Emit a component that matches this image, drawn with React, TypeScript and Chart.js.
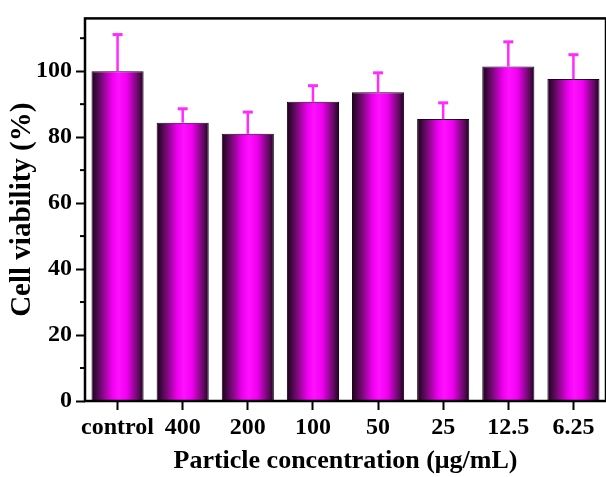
import React, { useEffect, useRef } from "react";
import { Chart, registerables } from "chart.js";

Chart.register(...registerables);

const categories = ["control", "400", "200", "100", "50", "25", "12.5", "6.25"];
const viability = [100, 84.4, 81.0, 90.7, 93.6, 85.5, 101.4, 97.6];
const errors = [11.1, 4.2, 6.6, 4.9, 5.9, 4.9, 7.5, 7.4];
const yMajorTicks = [0, 20, 40, 60, 80, 100];
const yMinorTicks = [10, 30, 50, 70, 90, 110];

const FONT = '"Liberation Serif", "Times New Roman", serif';
const BAR_PCT = 0.8;

export default function App() {
  const ref = useRef<HTMLCanvasElement | null>(null);

  useEffect(() => {
    if (!ref.current) return;

    const errorBars = {
      id: "errorBars",
      afterDatasetsDraw(chart: any) {
        const ctx = chart.ctx;
        const ys = chart.scales.y;
        const meta = chart.getDatasetMeta(0);
        ctx.save();
        ctx.strokeStyle = "#ff2bff";
        meta.data.forEach((bar: any, i: number) => {
          const x = bar.x;
          const y0 = ys.getPixelForValue(viability[i]);
          const y1 = ys.getPixelForValue(viability[i] + errors[i]);
          ctx.lineWidth = 2.5;
          ctx.beginPath();
          ctx.moveTo(x, y0);
          ctx.lineTo(x, y1);
          ctx.stroke();
          ctx.lineWidth = 3;
          ctx.beginPath();
          ctx.moveTo(x - 5, y1);
          ctx.lineTo(x + 5, y1);
          ctx.stroke();
        });
        ctx.restore();
      },
    };

    const frame = {
      id: "frame",
      afterDraw(chart: any) {
        const { ctx, chartArea } = chart;
        const ys = chart.scales.y;
        ctx.save();
        ctx.strokeStyle = "#000";
        ctx.lineWidth = 2.5;
        ctx.strokeRect(
          chartArea.left,
          chartArea.top,
          chartArea.right - chartArea.left,
          chartArea.bottom - chartArea.top
        );
        ctx.lineWidth = 2;
        yMinorTicks.forEach((v) => {
          const y = ys.getPixelForValue(v);
          ctx.beginPath();
          ctx.moveTo(chartArea.left - 5, y);
          ctx.lineTo(chartArea.left, y);
          ctx.stroke();
        });
        ctx.restore();
      },
    };

    const chart = new Chart(ref.current, {
      type: "bar",
      data: {
        labels: categories,
        datasets: [
          {
            data: viability,
            barPercentage: BAR_PCT,
            categoryPercentage: 1,
            borderWidth: 1,
            borderColor: "#1a0018",
            backgroundColor: (c: any) => {
              const ch = c.chart;
              const xs = ch.scales.x;
              if (!xs || c.dataIndex === undefined || !xs.width) return "#ff00ff";
              const cx = xs.getPixelForValue(c.dataIndex);
              const w = (xs.width / categories.length) * BAR_PCT;
              const g = ch.ctx.createLinearGradient(cx - w / 2, 0, cx + w / 2, 0);
              g.addColorStop(0, "#1a001a");
              g.addColorStop(0.15, "#600a60");
              g.addColorStop(0.4, "#f000f0");
              g.addColorStop(0.52, "#ff10ff");
              g.addColorStop(0.68, "#f000f0");
              g.addColorStop(0.9, "#600a60");
              g.addColorStop(1, "#1e001e");
              return g;
            },
          },
        ],
      },
      options: {
        animation: false,
        responsive: true,
        maintainAspectRatio: false,
        layout: { padding: { top: 15, right: 0, left: 0, bottom: 0 } },
        plugins: {
          legend: { display: false },
          tooltip: { enabled: false },
        },
        scales: {
          x: {
            offset: true,
            grid: {
              display: true,
              drawOnChartArea: false,
              drawTicks: true,
              tickLength: 9,
              tickWidth: 2,
              tickColor: "#000",
              offset: false,
            },
            border: { display: false },
            ticks: {
              color: "#000",
              padding: 3,
              maxRotation: 0,
              autoSkip: false,
              font: { family: FONT, size: 24, weight: "bold" },
            },
            title: {
              display: true,
              text: "Particle concentration (μg/mL)",
              color: "#000",
              font: { family: FONT, size: 26, weight: "bold" },
              padding: { top: 0, bottom: 0 },
            },
            afterFit: (s: any) => {
              s.height = 76;
            },
          },
          y: {
            min: 0,
            max: 116,
            grid: {
              display: true,
              drawOnChartArea: false,
              drawTicks: true,
              tickLength: 9,
              tickWidth: 2,
              tickColor: "#000",
            },
            border: { display: false },
            afterBuildTicks: (s: any) => {
              s.ticks = yMajorTicks.map((v) => ({ value: v }));
            },
            ticks: {
              color: "#000",
              padding: 4,
              includeBounds: false,
              stepSize: 20,
              font: { family: FONT, size: 24, weight: "bold" },
            },
            title: {
              display: true,
              text: "Cell viability (%)",
              color: "#000",
              font: { family: FONT, size: 29, weight: "bold" },
              padding: { top: 5, bottom: 0 },
            },
            afterFit: (s: any) => {
              s.width = 85;
            },
          },
        },
      },
      plugins: [errorBars, frame],
    } as any);

    return () => chart.destroy();
  }, []);

  return (
    <div style={{ position: "fixed", left: 0, top: 0, width: 606, height: 477, background: "#fff" }}>
      <canvas ref={ref} />
    </div>
  );
}
